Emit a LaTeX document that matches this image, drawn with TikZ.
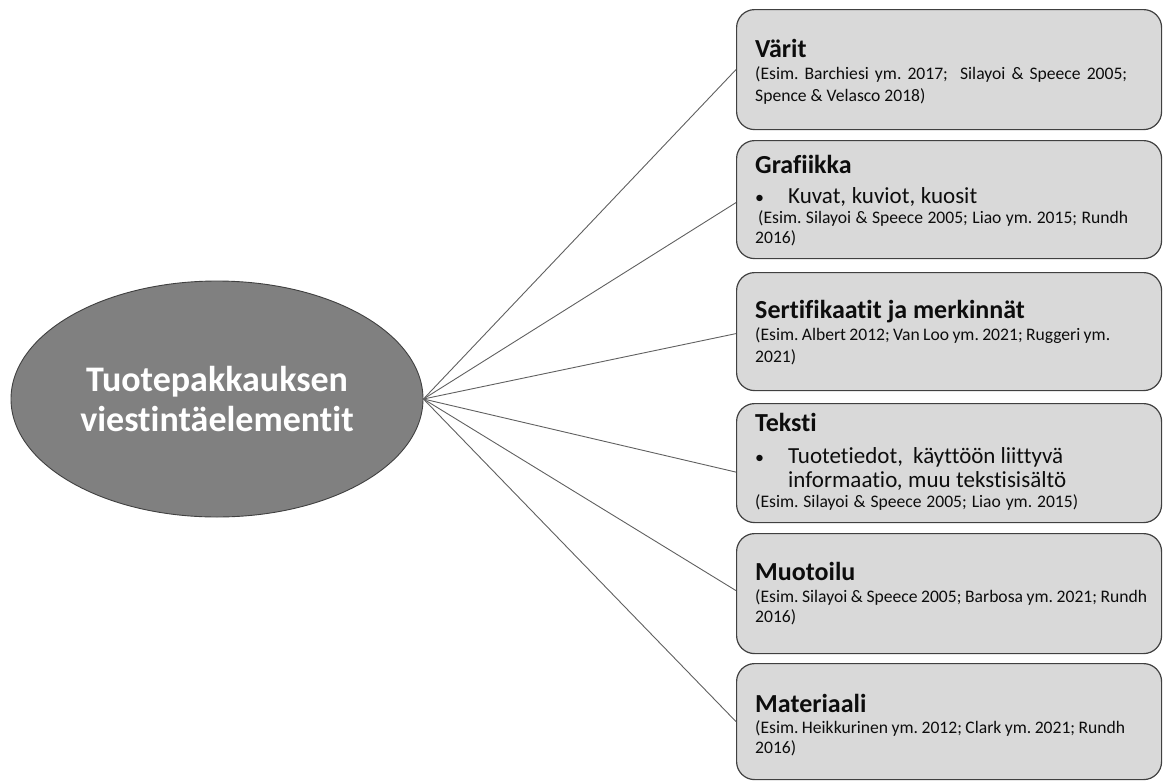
\documentclass[tikz,border=0pt]{standalone}
\usepackage{fontspec}
\setmainfont{Carlito}[Ligatures={NoCommon}]
\usetikzlibrary{shapes.geometric}
\definecolor{boxfill}{HTML}{D9D9D9}
\definecolor{boxline}{HTML}{404040}
\definecolor{ellfill}{HTML}{808080}
\definecolor{linkc}{HTML}{606060}
\definecolor{txt}{HTML}{0D0D0D}
\frenchspacing
\newcommand{\spread}[2]{\makebox[#1pt][s]{#2}}
\begin{document}
\begin{tikzpicture}[x=1pt,y=-1pt,
  card/.style={draw=boxline, fill=boxfill, rounded corners=18pt, line width=1.2pt,
    minimum width=425pt, inner sep=0pt, anchor=north west},
  head/.style={anchor=base west, inner sep=0pt, text=txt, font=\fontsize{26}{30}\selectfont\bfseries},
  cite/.style={anchor=base west, inner sep=0pt, text=txt, font=\fontsize{17.6}{22}\selectfont\frenchspacing},
  bul/.style={anchor=base west, inner sep=0pt, text=txt, font=\fontsize{23}{28}\selectfont},
  dot/.style={anchor=base west, inner sep=0pt, text=txt, font=\fontsize{18}{22}\selectfont},
  link/.style={draw=linkc, line width=0.9pt}]
\useasboundingbox (0,0) rectangle (1163,780);

% central ellipse
\node[ellipse, draw=boxline, fill=ellfill, line width=0.9pt, minimum width=412pt,
  minimum height=236pt, inner sep=0pt, align=center, text=white,
  font=\fontsize{36}{40}\selectfont\bfseries] (e) at (217,399)
  {Tuotepakkauksen\\viestintäelementit};

% boxes
\node[card, minimum height=120pt] (b1) at (736,9) {};
\node[card, minimum height=118pt] (b2) at (736,140) {};
\node[card, minimum height=118pt] (b3) at (736,272) {};
\node[card, minimum height=119pt] (b4) at (736,403) {};
\node[card, minimum height=120pt] (b5) at (736,533) {};
\node[card, minimum height=116pt] (b6) at (736,663) {};

% box 1
\node[head] (t1) at (755,57) {Värit};
\node[cite] (c1a) at (755,79) {\spread{372}{(Esim. Barchiesi ym. 2017;\ \ Silayoi \& Speece 2005;}};
\node[cite] (c1b) at (755,101) {Spence \& Velasco 2018)};

% box 2
\node[head] (t2) at (755,173) {Grafiikka};
\node[dot] (d2) at (755,203) {•};
\node[bul] (p2) at (788,203) {\spread{189}{Kuvat, kuviot, kuosit}};
\node[cite] (c2a) at (758,223) {\spread{370}{(Esim. Silayoi \& Speece 2005; Liao ym. 2015; Rundh}};
\node[cite] (c2b) at (755,243) {2016)};

% box 3
\node[head] (t3) at (755,318) {Sertifikaatit ja merkinnät};
\node[cite] (c3a) at (755,340) {\spread{355}{(Esim. Albert 2012; Van Loo ym. 2021; Ruggeri ym.}};
\node[cite] (c3b) at (755,362) {2021)};

% box 4
\node[head] (t4) at (755,431) {Teksti};
\node[dot] (d4) at (755,463) {•};
\node[bul] (p4a) at (788,463) {\spread{275}{Tuotetiedot,\ \ käyttöön liittyvä}};
\node[bul] (p4b) at (788,487) {\spread{278}{informaatio, muu tekstisisältö}};
\node[cite] (c4a) at (755,507) {\spread{323}{(Esim. Silayoi \& Speece 2005; Liao ym. 2015)}};

% box 5
\node[head] (t5) at (755,580) {Muotoilu};
\node[cite] (c5a) at (755,602) {\spread{392}{(Esim. Silayoi \& Speece 2005; Barbosa ym. 2021; Rundh}};
\node[cite] (c5b) at (755,622) {2016)};

% box 6
\node[head] (t6) at (755,712) {Materiaali};
\node[cite] (c6a) at (755,733) {\spread{370}{(Esim. Heikkurinen ym. 2012; Clark ym. 2021; Rundh}};
\node[cite] (c6b) at (755,753) {2016)};

% connectors
\draw[link] (e.east) -- (b1.west);
\draw[link] (e.east) -- ([yshift=-3pt]b2.west);
\draw[link] (e.east) -- ([yshift=-2pt]b3.west);
\draw[link] (e.east) -- ([yshift=-9pt]b4.west);
\draw[link] (e.east) -- ([yshift=3pt]b5.west);
\draw[link] (e.east) -- (b6.west);
\end{tikzpicture}
\end{document}
